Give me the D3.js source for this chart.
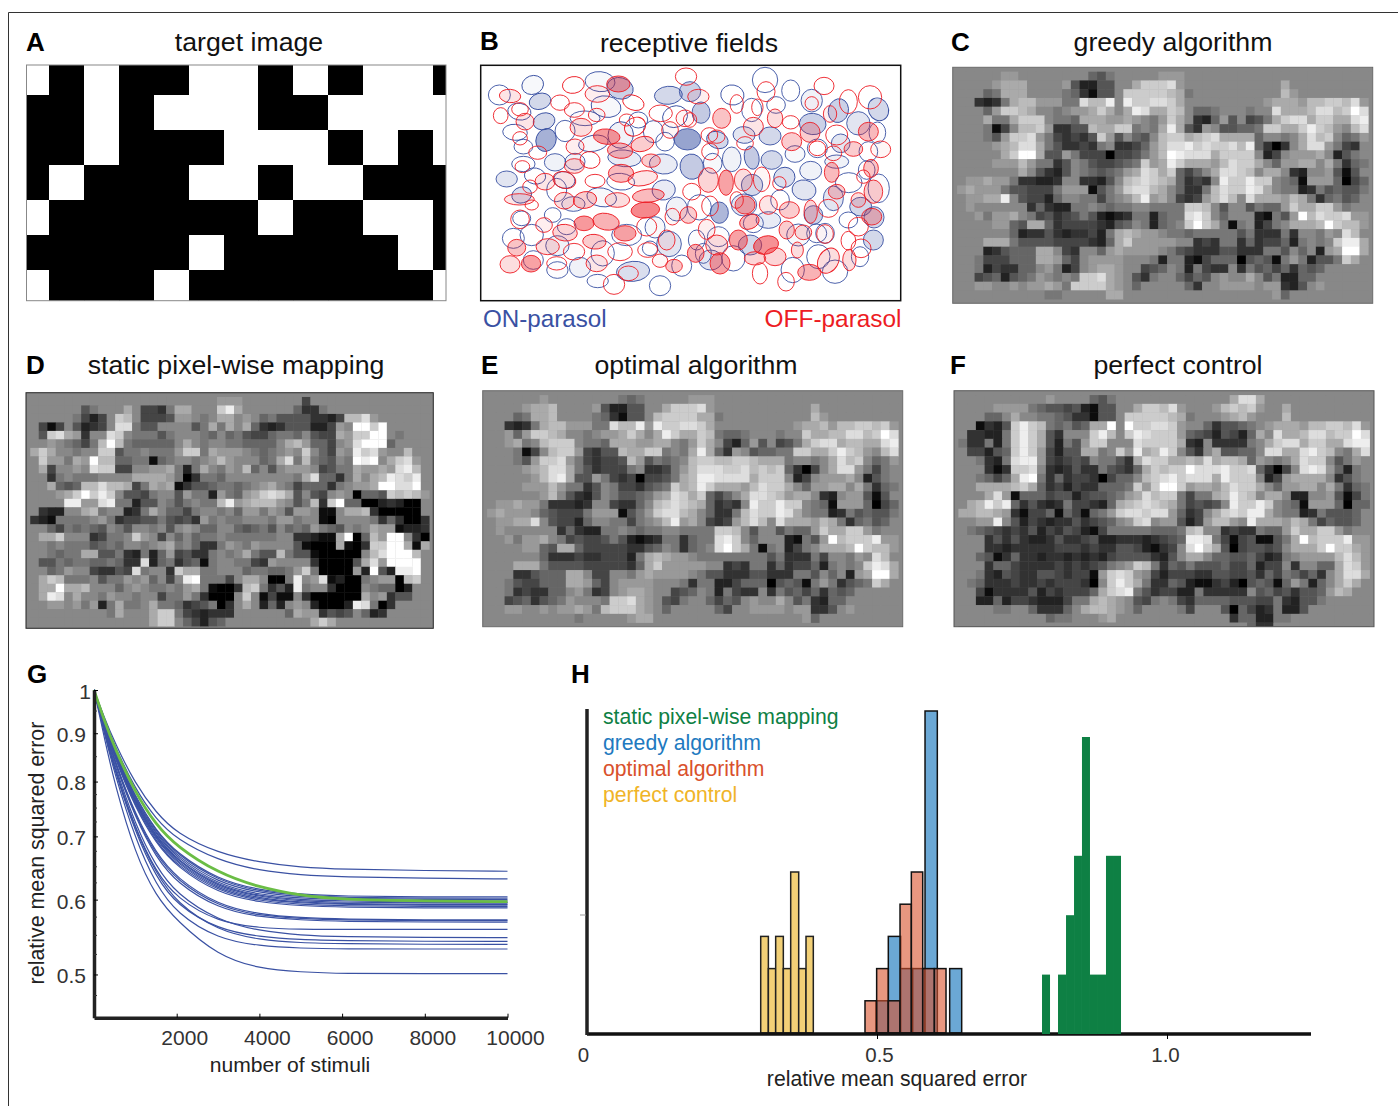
<!DOCTYPE html>
<html>
<head>
<meta charset="utf-8">
<script src="https://cdn.jsdelivr.net/npm/d3@7"></script>
<style>
body { margin: 0; background: #fff; }
text { font-family: "Liberation Sans", Arial, sans-serif; }
</style>
</head>
<body>
<div id="figure"></div>
<script>
// panel A, 1 = white
var targetGrid = [
    "1010011010110",
    "0010111001111",
    "0010001110101",
    "0100011011000",
    "1000000100110",
    "0000010000010",
    "1000100000001"
];

// reconstructions, one hex digit per pixel: 0 black, 8 grey, f white
var greedyRows = [
    "88888 99888 88888 65788 88899 98888 88888 88888 88888 88",
    "88889 aaa88 88952 25588 acccd 98888 88888 88a88 88888 88",
    "88867 aaa88 88763 1558c ccccb a7888 88888 88b98 88888 88",
    "88323 7abb9 9977d bbe8e ccddc a8888 88888 9aaa9 bbccb d9",
    "88869 ccba8 87899 aca8a edaac b8667 88878 8daaa bddbc fd",
    "888a7 7accc 8776a aa99a 9879c a8326 95845 7acdd accaa de",
    "88871 48bbc 93355 baacc 787ae a5398 55667 ccaac ecb98 bd",
    "88875 9ccd9 74343 5c958 658bc cabcd aaaa6 8878a dbc86 79",
    "88889 abdda 75334 37833 469bd decdc cdbe6 3038a dd974 38",
    "88888 acffa 55974 44044 579bf eddda cccc8 24899 9a825 78",
    "88889 99b97 73587 54456 7c9ae caaa9 bdcca 8699a a8a73 67",
    "88888 88a85 32587 65679 adcac 6468a ddcb8 aa832 88951 58",
    "899a9 97332 23883 3258b cdcba 63438 eccec c8761 99960 46",
    "9a999 75544 47999 1579c ddba8 6337b dcced a8772 37565 57",
    "899aa e8544 26887 74789 be9a8 4349b db8da aa9ba 73675 68",
    "89888 88836 32277 87677 88777 7ccb8 58857 669ca acc97 88",
    "88979 9a874 53457 52123 77267 7dec8 68882 1759f bdccd 99",
    "88889 965aa 63444 43256 87267 8cfca 71782 478aa abfcb b9",
    "88888 86233 53233 427ab a9987 76777 77573 33738 8798d b8",
    "888aa a7555 54444 326ac 99999 88343 77363 44627 878ce ea",
    "88823 5666a a8438 869a9 99987 54333 55333 77586 829af fa",
    "88744 4666a a9648 99998 88727 72146 66056 51797 2557c a8",
    "88724 33668 97248 9aa98 84568 72743 38375 64636 56888 88",
    "88456 25679 8787c cda98 53788 64658 988a8 57226 68888 88",
    "88998 89899 a97cc cca98 68888 86388 99998 99325 89888 88",
    "88888 88888 77888 88aa8 88888 88888 88888 89688 88888 88"
];

var optimalRows = [
    "88888 89888 88888 76788 88899 98888 88888 88888 88888 88",
    "88889 aab88 88952 25588 acccd 98888 88888 88a88 88888 88",
    "88867 aab88 88763 1558b cccca a7888 88888 88b98 88888 88",
    "88323 7abb9 9977d bbe9e ccddc a8888 88888 9aab9 bbccb c9",
    "88969 ccba8 87899 aca8a ecaac b7667 88878 8caab bddbc fd",
    "889a7 8bccc 8776a aa99a a879c a8426 95845 7acdd abbaa de",
    "88871 48bcc 94355 baacc 787ae a6398 56677 ccaac ecb98 bd",
    "88875 9ccd9 74344 5b957 678bc cbbcc baaa7 8878a dbc86 79",
    "88889 abdda 75344 47833 479bd ddccd bcbc6 3048a dd974 78",
    "88888 9bdea 55974 34044 57abe edddd accc8 24899 9a825 78",
    "88889 99b97 73587 44356 7cabe caaa9 bdcca 8699a a8a73 67",
    "88888 89b85 32587 55679 adcac 6468a ddcb9 aa832 89951 58",
    "899a9 97333 23884 3368b cdcba 63438 eccec c8761 99960 46",
    "9a999 86544 47999 1579c ddba8 6337b dcced a8772 37565 57",
    "899aa d8544 26887 74789 be9a8 4349b db8da aa9ba 73675 68",
    "89888 88836 32277 87677 88777 7ccb8 58857 669ca acc97 88",
    "88979 9a874 54457 52123 77367 7dec8 68882 1759f bccce 99",
    "88889 965aa 64444 43356 87367 8dfca 71782 478aa abfcb b9",
    "88888 86333 43344 427ab a9987 77777 77573 33748 8798d b8",
    "888aa a7555 54444 436ac 99999 88343 77363 44627 878ce da",
    "88833 5666a a8448 879a9 99987 55333 55333 77586 829af fa",
    "88754 4666a a9648 99998 88737 72246 66056 51797 3567c a8",
    "88734 33668 97348 9aa98 84568 72743 38375 64636 56888 88",
    "88456 35679 8887c cda98 54788 64658 988a8 57326 68888 88",
    "88998 89899 a97bc cca98 68888 86488 99998 99335 89888 88",
    "88888 88888 78888 89aa8 88888 88888 88888 89688 88888 88"
];

var perfectRows = [
    "88888 88888 98888 65788 88888 88888 8adda 88888 88888 88",
    "88889 99976 55452 15588 accbd 98889 bcbc9 88a88 88888 88",
    "88866 8a887 76533 1558c ccccb a7888 9ab98 88b88 88888 88",
    "88132 5cecb 76756 aaf8f ccddc 98863 55678 9aaa9 bbccb d9",
    "83322 7ceca 53888 ceb8c edccc 96542 5426a 8daab ddbcc fd",
    "73372 7ceca 52759 cc888 dcccc a3283 33378 acdda ccaad ee",
    "84425 6cec9 4255a a78c9 eabec 8538a 55668 ddaad ecb87 ad",
    "88732 7dee9 43454 87753 adcca abada bba69 878ad cc857 98",
    "88831 3ccd8 32353 37543 6acbc cfddd eccd6 3048d ed962 78",
    "88764 6aef7 36344 30466 8bcde cddda eccc8 249aa aa835 78",
    "88aaa abca6 34243 36667 c9cff c9aa9 bdcca 8699a a8a73 67",
    "888ad 91666 45524 55679 adbcc 7477a becb8 aa822 88951 47",
    "8abec e6353 23744 326ab cdcba 74545 8ecce c8761 99960 66",
    "aabba 93144 61641 679cd dcdd9 6348a cdcee a8772 37555 68",
    "8899e 85243 23353 45689 cd899 5249b b98ea aa9ba 74655 68",
    "87654 34352 43542 14777 77666 7bc88 34337 669ca acc97 88",
    "88835 35322 35334 52233 32345 6eed7 41451 157af bccce 99",
    "88833 23333 34443 43355 42134 8dfca 50455 458aa acfcc a9",
    "88651 36332 33232 32455 55325 8aa86 65564 23789 999bd b9",
    "88836 64333 34343 45789 cb736 57555 64462 44838 866ad c9",
    "88732 54335 54344 19cdc 98424 44335 54453 64764 638ad da",
    "87633 34334 34443 08cec a7336 52113 42056 51697 268ac a8",
    "88413 33352 43444 6acde 75344 22733 33385 64535 569ba 88",
    "88226 24432 22477 aba98 54787 43666 65554 47325 57888 88",
    "88887 78863 3368a bba98 68888 74888 50642 37225 88888 88",
    "88888 88888 67788 89a88 88888 88888 83662 27788 88888 88",
    "88888 88888 88888 88888 88888 88888 88863 38888 88888 88"
];

var staticRows = [
    "88888 88888 88888 88888 88999 88888 88488 88888 88888 88",
    "88888 85788 8a844 37aa8 88cea 88888 86337 88888 88888 88",
    "88888 74248 cb844 45998 78aa8 98675 55533 24bbd 98888 88",
    "84148 52348 dd755 88885 7a7a8 a6323 55522 498ff cf888 88",
    "85cda 9388d c8777 57888 76867 54467 76854 4a9cc ff878 88",
    "88987 647bf b7666 668a8 78877 66668 ab966 489df ff688 88",
    "aca88 788cc 57787 779cc 7a999 87678 98c86 498ec d988b 88",
    "8c997 a9fbb 66771 67887 89b98 8867a d7b76 587fe f8acd 98",
    "8a488 98dcc 44889 9a727 a8798 b6858 99984 577a9 9a9de b8",
    "88378 77788 88aaa a9703 77688 88888 87ad6 637a8 abedc e8",
    "88a65 6bbdb ba47a 9a135 56776 789a8 74666 37899 affdd f8",
    "8889a cfcec 85547 88597 72976 9acdc a5854 89806 65cbc b9",
    "8888e e99de 77255 87578 77be9 abbb9 857b3 cf660 02320 08",
    "83228 8ab78 8237a 86647 88786 99798 59981 18aab 30000 08",
    "32177 77897 34455 75453 97877 88879 97881 08888 73630 03",
    "88647 67658 75887 85898 66886 56758 67697 65878 a9912 23",
    "8aac8 88347 78c98 48686 77877 77778 83321 1af06 b9ff8 30",
    "88787 77567 68878 9a786 33798 79888 85100 0a103 ccffa 1a",
    "88767 7aa55 73272 69453 37878 a755b 75510 00008 bdfff b8",
    "85576 77667 633d2 67356 17887 74398 88830 0005a d9fff f8",
    "88679 88433 54d78 83caa 77888 67766 79c70 00092 f52ee f8",
    "8acb7 77857 79896 848ef 77748 aa800 7e89d 12007 8990b c8",
    "8aafa ab888 68987 7879a 71003 bc735 2e788 30008 76602 88",
    "8aed8 a8879 88788 47797 30008 c8141 18300 0000a 89355 88",
    "88998 97927 a778a 77634 57038 a8262 89820 002ed 70388 88",
    "88888 88887 a888a cc743 23338 88888 6a993 54586 23888 88",
    "88888 88888 8888a cc864 25688 88888 888ac a8888 88888 88"
];

// panel B ellipses: cx, cy, rx, ry, angle, fill alpha
var onFields = [
    [88,225,33,30,0,0],[188,195,33,28,-20,.05],[210,244,33,24,-15,.3],[222,304,33,25,-15,.3],
    [228,360,30,35,20,.6],[148,275,35,25,10,0],[135,337,37,24,5,0],[160,380,28,22,0,0],
    [160,432,35,23,0,0],[255,427,32,26,0,.1],[285,333,30,32,0,0],[345,295,45,22,0,.02],
    [390,185,45,30,5,.05],[450,205,40,32,15,.35],[408,260,45,32,10,.05],[452,345,38,40,20,.1],
    [370,370,45,24,-10,.05],[463,415,50,25,5,.15],[110,477,32,24,0,.2],[195,468,32,24,10,0],
    [155,525,30,24,-15,.25],[260,510,30,35,0,0],[283,480,32,25,10,.02],[310,552,35,22,0,.1],
    [395,532,45,28,10,.05],[452,485,42,25,5,0],[581,510,35,30,-10,.15],[580,432,42,30,5,.15],
    [550,335,30,33,0,.02],[585,365,28,28,0,0],[595,226,42,27,-5,.3],[660,215,32,30,0,.35],
    [615,290,38,32,-20,0],[652,358,40,32,0,.7],[693,278,27,32,0,.4],[742,360,33,25,20,.3],
    [787,225,35,30,10,0],[785,418,28,37,0,.1],[728,430,28,30,0,.05],[665,440,35,38,-10,.4],
    [845,413,22,35,-10,.4],[822,345,33,25,5,.2],[905,420,32,28,0,.3],[900,348,33,27,0,.3],
    [885,180,38,38,0,0],[845,270,30,35,0,0],[918,255,28,25,0,0],[962,212,27,32,0,0],
    [1025,242,32,34,0,.1],[1105,272,30,36,15,.35],[1225,268,30,35,-25,.3],[1028,312,40,32,5,.35],
    [1165,310,35,35,0,.2],[1222,338,25,32,0,.02],[1112,370,28,28,0,.2],[1042,385,30,28,0,0],
    [975,402,30,25,0,.05],[1100,425,36,20,0,.1],[1022,452,33,28,0,.1],[943,472,32,30,-20,.25],
    [1002,510,36,30,10,.2],[846,495,32,32,0,.3],[1136,488,40,30,0,0],[1090,535,30,37,0,.2],
    [1226,505,32,43,0,.02],[1172,560,33,28,0,.3],[1212,592,30,32,0,.3],[1030,585,28,28,0,.35],
    [1210,660,30,30,0,.3],[985,645,35,33,0,.05],[822,555,38,33,0,.2],[748,578,27,32,0,.55],
    [688,562,36,38,0,0],[620,567,32,36,0,.1],[555,622,30,32,0,.05],[597,672,37,38,0,.2],
    [470,645,45,32,0,.02],[185,645,35,32,0,0],[130,655,33,30,0,0],[262,677,35,30,0,.1],
    [190,720,30,28,0,0],[398,700,35,38,0,.02],[262,750,32,25,0,.02],[330,742,32,30,0,.1],
    [383,783,32,20,0,.02],[489,754,50,30,-5,.25],[540,685,23,22,0,0],[570,797,32,30,0,0],
    [635,737,30,32,0,0],[722,720,35,30,0,.2],[745,650,33,30,0,.02],[680,660,25,30,0,.02],
    [790,715,35,38,0,0],[840,675,35,30,0,.3],[895,600,37,25,0,.15],[968,750,35,38,0,0],
    [1045,710,35,36,0,0],[1095,755,38,35,0,0],[1170,710,26,30,0,0],[1065,640,28,30,0,.02],
    [1195,395,28,30,0,0],[248,585,25,22,0,0],[155,595,27,22,0,0],[315,425,30,25,0,.1],
    [1040,640,30,28,0,0],[850,610,30,28,0,0],[290,620,28,24,0,0],[1190,450,25,28,0,0],
    [1135,600,28,24,0,0],[930,540,28,30,0,0],[505,300,28,24,0,0],[700,700,24,30,0,0]
];

var offFields = [
    [120,228,32,20,5,.15],[310,195,33,25,-10,0],[270,248,28,23,0,0],[313,270,30,22,0,.02],
    [92,287,22,24,0,0],[150,268,25,20,0,0],[165,305,27,25,0,.15],[382,222,37,25,0,.1],
    [445,192,35,24,0,.5],[490,248,33,22,20,0],[333,322,33,27,0,.2],[380,285,25,20,0,.05],
    [495,320,33,27,-30,0],[410,350,40,23,5,.6],[450,392,38,23,5,.4],[517,372,35,22,-15,.3],
    [315,380,27,23,0,.1],[203,398,27,20,0,0],[150,355,22,20,0,0],[157,440,22,18,0,0],
    [313,438,30,22,0,.2],[360,420,30,25,10,0],[453,460,38,27,0,.4],[518,475,45,22,-10,.15],
    [543,422,28,20,0,.3],[225,485,30,25,0,.15],[283,480,35,25,15,.15],[375,483,30,20,0,0],
    [148,538,45,17,0,.15],[185,555,20,15,0,0],[283,542,30,25,0,.2],[345,540,35,25,-10,.3],
    [442,540,37,22,0,.2],[535,527,48,20,-5,.4],[526,570,43,24,-5,.7],[150,598,28,28,0,0],
    [222,615,25,22,0,.1],[285,638,37,25,5,.25],[342,610,30,22,0,.6],[408,605,40,25,10,.45],
    [465,640,33,23,0,.55],[373,665,35,22,5,.3],[140,683,27,25,0,.35],[233,680,35,24,0,.2],
    [312,695,32,25,0,.02],[120,733,30,26,0,.2],[183,731,29,25,0,.55],[260,730,30,20,0,0],
    [380,730,32,25,0,.15],[450,695,37,27,0,0],[432,793,32,30,0,0],[475,760,30,22,0,0],
    [533,690,30,22,0,0],[570,722,23,20,0,.05],[612,738,25,20,0,.35],[590,660,25,30,0,.1],
    [530,620,30,28,0,0],[607,590,22,25,0,.05],[655,585,25,25,0,.3],[710,628,25,30,0,.1],
    [720,558,25,30,0,0],[648,170,32,26,0,0],[685,230,32,22,0,.1],[572,280,35,25,0,0],
    [645,295,27,25,0,.05],[755,295,27,30,0,.35],[800,252,20,28,0,0],[862,262,17,25,0,0],
    [888,215,27,30,0,0],[850,320,30,28,0,.15],[718,345,25,22,0,0],[915,295,23,28,0,.2],
    [962,307,25,20,0,0],[965,365,30,27,0,.3],[1062,198,30,26,0,0],[1135,245,27,36,0,0],
    [1200,232,35,35,0,0],[1025,250,20,20,0,.02],[1080,282,20,25,0,.1],[1020,337,30,30,0,.3],
    [1100,345,33,30,0,0],[1042,385,25,22,0,0],[1150,387,28,22,0,.3],[1195,335,30,28,0,.4],
    [1232,388,30,25,0,.05],[1090,400,25,22,0,.02],[1085,457,22,30,0,.4],[1203,445,22,27,0,.35],
    [1100,515,25,22,0,.3],[1210,515,28,35,0,.3],[1165,540,22,22,0,.2],[1205,590,30,25,0,.35],
    [1165,620,30,28,0,0],[1135,662,22,28,0,0],[1173,685,30,28,0,0],[1138,720,20,32,0,.2],
    [1075,722,30,40,30,.2],[1018,757,35,24,0,.45],[948,785,25,28,0,0],[870,760,23,32,0,0],
    [915,710,33,27,0,.25],[855,715,32,20,0,.25],[888,675,38,27,-15,.65],[805,660,27,30,0,.55],
    [838,605,30,22,-20,.4],[825,555,30,27,0,.5],[768,488,22,38,0,.55],[715,480,30,37,0,.25],
    [820,480,27,33,0,.2],[875,478,25,37,0,.05],[750,730,30,32,0,.55],[740,675,33,30,0,.2],
    [677,700,25,27,0,.45],[665,515,27,25,0,0],[895,555,27,28,0,.15],[958,570,30,25,0,.3],
    [928,490,20,20,0,0],[1022,575,20,35,0,.25],[1000,637,25,22,0,.2],[950,630,23,27,0,.3],
    [982,690,18,24,0,.2],[1065,642,25,28,0,.05],[1075,565,30,27,0,0],[740,350,25,20,0,0],
    [180,500,22,20,0,0],[470,300,22,18,0,0],[600,330,25,25,0,.05],[720,395,25,25,0,0],
    [825,370,25,20,0,0],[1180,470,20,20,0,0],[660,300,20,22,0,0],[800,540,20,25,0,0]
];

// panel G
var stimuli = [0, 250, 500, 1000, 1500, 2000, 3000, 4000, 5000, 6000, 8000, 10000];
var cellCurves = [
    [1,.935,.880,.795,.742,.705,.672,.657,.649,.646,.644,.643],
    [1,.932,.872,.785,.730,.695,.660,.644,.637,.634,.632,.631],
    [1,.925,.862,.770,.710,.672,.630,.614,.608,.605,.604,.604],
    [1,.924,.860,.768,.708,.670,.628,.612,.606,.603,.602,.602],
    [1,.923,.858,.765,.705,.667,.625,.610,.604,.602,.600,.600],
    [1,.922,.857,.763,.703,.664,.622,.607,.602,.600,.598,.598],
    [1,.921,.855,.760,.700,.661,.620,.605,.600,.598,.596,.596],
    [1,.922,.856,.760,.698,.660,.618,.604,.598,.596,.595,.595],
    [1,.920,.853,.757,.696,.657,.616,.602,.596,.594,.593,.593],
    [1,.919,.852,.756,.694,.655,.614,.600,.595,.593,.592,.592],
    [1,.918,.850,.753,.691,.652,.612,.598,.593,.591,.590,.590],
    [1,.917,.848,.750,.688,.650,.609,.596,.591,.589,.588,.588],
    [1,.915,.842,.738,.672,.632,.592,.579,.574,.572,.571,.571],
    [1,.913,.840,.735,.669,.629,.590,.577,.573,.571,.570,.570],
    [1,.912,.838,.732,.665,.625,.587,.575,.571,.569,.568,.568],
    [1,.906,.825,.713,.642,.602,.568,.560,.558,.558,.558,.558],
    [1,.910,.832,.720,.650,.608,.570,.556,.550,.548,.547,.547],
    [1,.904,.822,.706,.634,.592,.558,.548,.544,.543,.542,.542],
    [1,.906,.826,.710,.640,.595,.556,.544,.540,.539,.538,.538],
    [1,.900,.815,.695,.622,.580,.545,.536,.533,.532,.532,.532],
    [1,.890,.795,.670,.605,.570,.523,.507,.503,.501,.501,.501]
];
var populationCurve = [1,.928,.868,.778,.720,.683,.640,.618,.606,.600,.598,.597];
var gXTicks = [2000, 4000, 6000, 8000, 10000];
var gYTicks = [1, .9, .8, .7, .6, .5];
var gYMinor = [.95, .85, .775, .75, .725, .675, .65, .625, .575, .55, .525, .475];

// panel H, histogram edges and counts
var perfectEdges = [.2995,.3127,.3253,.3385,.3512,.3650,.3776,.3902];
var perfectCounts = [3,2,3,2,5,2,3];
var greedyEdges = [.4983,.5195,.5408,.5615,.5828,.6040,.6253,.6460];
var greedyCounts = [1,3,2,2,10,0,2];
var optimalEdges = [.4793,.4994,.5195,.5397,.5592,.5788,.5989,.6190];
var optimalCounts = [1,2,1,4,5,2,2];
var staticEdges = [.7845,.7983,.8121,.8259,.8397,.8534,.8672,.8810,.8948,.9086,.9207];
var staticCounts = [1,0,1,2,3,5,1,1,3,3];
var hXTicks = [0, .5, 1];
var legendNames = ["static pixel-wise mapping", "greedy algorithm", "optimal algorithm", "perfect control"];

var ON_BLUE = "#3a51a3", OFF_RED = "#ed1c24";
var legendColors = ["#0e8044", "#2179c0", "#d9512c", "#f0b428"];

var svg = d3.select("#figure").append("svg")
    .attr("width", 1398).attr("height", 1106)
    .style("display", "block");

var defs = svg.append("defs");
defs.append("filter").attr("id", "soft")
    .attr("x", "-2%").attr("y", "-2%").attr("width", "104%").attr("height", "104%")
    .append("feGaussianBlur").attr("stdDeviation", 0.6);

// outer figure border
svg.append("path").attr("d", "M1398,12.5H8.5V1106")
    .attr("fill", "none").attr("stroke", "#333").attr("stroke-width", 1);

function label(x, y, txt, size, opts) {
    opts = opts || {};
    return svg.append("text")
        .attr("x", x).attr("y", y)
        .attr("font-size", size)
        .attr("font-weight", opts.bold ? "bold" : null)
        .attr("text-anchor", opts.anchor || "start")
        .attr("fill", opts.color || "#111")
        .text(txt);
}

[["A", 26, 51], ["B", 480, 50], ["C", 951, 51], ["D", 26, 374], ["E", 481, 374], ["F", 950, 374], ["G", 27, 683], ["H", 571, 683]]
    .forEach(d => label(d[1], d[2], d[0], 26, { bold: true, color: "#000" }));

[["target image", 249, 51], ["receptive fields", 689, 52], ["greedy algorithm", 1173, 51],
 ["static pixel-wise mapping", 236, 374], ["optimal algorithm", 696, 374], ["perfect control", 1178, 374]]
    .forEach(d => label(d[1], d[2], d[0], 26.7, { anchor: "middle" }));

label(483, 327, "ON-parasol", 24.2, { color: ON_BLUE });
label(901.5, 327, "OFF-parasol", 24.4, { color: OFF_RED, anchor: "end" });

// panel A
(function () {
    var box = { x0: 26.5, x1: 446, y0: 65, y1: 300.7 };
    var col = d3.scaleLinear().domain([1, 12]).range([49.3, 432.7]);
    var row = d3.scaleLinear().domain([1, 6]).range([95.3, 270]);
    defs.append("clipPath").attr("id", "clipA").append("rect")
        .attr("x", box.x0).attr("y", box.y0)
        .attr("width", box.x1 - box.x0).attr("height", box.y1 - box.y0);
    var g = svg.append("g").attr("clip-path", "url(#clipA)").attr("shape-rendering", "crispEdges");
    targetGrid.forEach((line, r) => {
        line.split("").forEach((v, c) => {
            g.append("rect")
                .attr("x", col(c)).attr("y", row(r))
                .attr("width", col(c + 1) - col(c) + 0.5).attr("height", row(r + 1) - row(r) + 0.5)
                .attr("fill", v === "1" ? "#fff" : "#000");
        });
    });
    svg.append("rect").attr("x", box.x0).attr("y", box.y0)
        .attr("width", box.x1 - box.x0).attr("height", box.y1 - box.y0)
        .attr("fill", "none").attr("stroke", "#888").attr("stroke-width", 1);
})();

// panel B
(function () {
    var fx = d3.scaleLinear().domain([32, 1292]).range([480.7, 900.7]);
    var fy = d3.scaleLinear().domain([136, 842]).range([65.3, 300.7]);
    var fr = d3.scaleLinear().domain([0, 1260]).range([0, 420]);
    function draw(fields, color) {
        svg.append("g").selectAll("ellipse")
            .data(fields).enter().append("ellipse")
            .attr("rx", d => fr(d[2])).attr("ry", d => fr(d[3]))
            .attr("transform", d => "translate(" + fx(d[0]) + "," + fy(d[1]) + ") rotate(" + d[4] + ")")
            .attr("fill", color).attr("fill-opacity", d => d[5] * 0.75)
            .attr("stroke", color).attr("stroke-width", 0.9);
    }
    draw(onFields, ON_BLUE);
    draw(offFields, OFF_RED);
    svg.append("rect").attr("x", 480.7).attr("y", 65.3).attr("width", 420).attr("height", 235.4)
        .attr("fill", "none").attr("stroke", "#111").attr("stroke-width", 1.5);
})();

// panels C to F
var grey = d3.scaleLinear().domain([0, 15]).range(["#000", "#fff"]);

function drawImage(id, rows, box, pitch, edge) {
    var cx = d3.scaleLinear().domain([0, 1]).range([box.x0 + pitch / 2, box.x0 + pitch * 1.5]);
    var cy = d3.scaleLinear().domain([0, 1]).range([box.y0 + pitch / 2, box.y0 + pitch * 1.5]);
    var w = box.x1 - box.x0, h = box.y1 - box.y0;
    defs.append("clipPath").attr("id", id).append("rect")
        .attr("x", box.x0).attr("y", box.y0).attr("width", w).attr("height", h);
    var g = svg.append("g").attr("clip-path", "url(#" + id + ")");
    g.append("rect").attr("x", box.x0).attr("y", box.y0).attr("width", w).attr("height", h).attr("fill", "#888");
    var cells = [];
    rows.forEach((line, r) => {
        line.replace(/ /g, "").split("").forEach((v, c) => {
            cells.push({ r: r, c: c, v: parseInt(v, 16) });
        });
    });
    g.append("g").attr("filter", "url(#soft)").selectAll("rect")
        .data(cells).enter().append("rect")
        .attr("x", d => cx(d.c)).attr("y", d => cy(d.r))
        .attr("width", pitch + 0.3).attr("height", pitch + 0.3)
        .attr("fill", d => grey(d.v));
    svg.append("rect").attr("x", box.x0).attr("y", box.y0).attr("width", w).attr("height", h)
        .attr("fill", "none").attr("stroke", edge).attr("stroke-width", 1);
}

drawImage("clipC", greedyRows, { x0: 952.7, x1: 1372.7, y0: 67.3, y1: 303.3 }, 8.75, "#666");
drawImage("clipD", staticRows, { x0: 26, x1: 433.3, y0: 392.7, y1: 628.3 }, 8.49, "#222");
drawImage("clipE", optimalRows, { x0: 482.7, x1: 902.7, y0: 390.7, y1: 626.7 }, 8.75, "#666");
drawImage("clipF", perfectRows, { x0: 954, x1: 1374, y0: 390.7, y1: 626.7 }, 8.75, "#555");

// panel G
var gx = d3.scaleLinear().domain([0, 10000]).range([94, 507.5]);
var gy = d3.scaleLog().domain([.45, 1]).range([1017.7, 690]);
var gLine = d3.line()
    .x((d, i) => gx(stimuli[i]))
    .y(d => gy(d))
    .curve(d3.curveBasis);

svg.append("g").selectAll("path")
    .data(cellCurves).enter().append("path")
    .attr("d", gLine)
    .attr("fill", "none").attr("stroke", ON_BLUE).attr("stroke-width", 1.2);
svg.append("path").attr("d", gLine(populationCurve))
    .attr("fill", "none").attr("stroke", "#6abd45").attr("stroke-width", 2.8);

var gAxisX = svg.append("g")
    .attr("transform", "translate(0,1017.7)")
    .call(d3.axisBottom(gx).tickValues(gXTicks).tickSizeInner(-4).tickSizeOuter(0).tickPadding(12).tickFormat(d3.format("d")));
gAxisX.select(".domain").attr("stroke", "#222").attr("stroke-width", 3.5);
gAxisX.selectAll("text").attr("font-size", 21).attr("fill", "#333").attr("dx", 7.5)
    .style("font-family", '"Liberation Sans", Arial, sans-serif');

var gAxisY = svg.append("g")
    .attr("transform", "translate(94,0)")
    .call(d3.axisLeft(gy).tickValues(gYTicks).tickSizeInner(-4).tickSizeOuter(0).tickPadding(8).tickFormat(d => d === 1 ? "1" : d3.format(".1f")(d)));
gAxisY.select(".domain").attr("stroke", "#222").attr("stroke-width", 3.5);
gAxisY.selectAll("text").attr("font-size", 21).attr("fill", "#333").attr("dy", "0.4em")
    .style("font-family", '"Liberation Sans", Arial, sans-serif');
gAxisY.selectAll("text").filter(d => d === 1).attr("dx", 5);
svg.append("g").selectAll("line")
    .data(gYMinor).enter().append("line")
    .attr("x1", 94).attr("x2", 97)
    .attr("y1", d => gy(d)).attr("y2", d => gy(d))
    .attr("stroke", "#333").attr("stroke-width", 1);

label(0, 0, "relative mean squared error", 21.4, { anchor: "middle", color: "#222" })
    .attr("transform", "translate(44,853) rotate(-90)");
label(290, 1072, "number of stimuli", 21.1, { anchor: "middle", color: "#222" });

// panel H
var hx = d3.scaleLinear().domain([0, 1]).range([587, 1167]);
var hy = d3.scaleLinear().domain([0, 10]).range([1033, 711]);
var hyStatic = d3.scaleLinear().domain([0, 5]).range([1034, 737]);

function histogram(edges, counts, y, fill, opacity, stroke) {
    var rows = counts.map((n, i) => ({ n: n, a: edges[i], b: edges[i + 1] })).filter(d => d.n > 0);
    svg.append("g").selectAll("rect")
        .data(rows).enter().append("rect")
        .attr("x", d => hx(d.a)).attr("width", d => hx(d.b) - hx(d.a))
        .attr("y", d => y(d.n)).attr("height", d => y(0) - y(d.n))
        .attr("fill", fill).attr("fill-opacity", opacity)
        .attr("stroke", stroke).attr("stroke-width", stroke === "none" ? 0 : 1.5);
}

histogram(perfectEdges, perfectCounts, hy, "#f2d077", 1, "#222");
histogram(greedyEdges, greedyCounts, hy, "#6ba8d5", 1, "#111");
histogram(optimalEdges, optimalCounts, hy, "#d9512c", 0.6, "#111");

var hAxisX = svg.append("g")
    .attr("transform", "translate(0,1034)")
    .call(d3.axisBottom(hx).tickValues(hXTicks).tickSizeInner(5).tickSizeOuter(0).tickPadding(8)
        .tickFormat(d => d === 0 ? "0" : d3.format(".1f")(d)));
hAxisX.select(".domain").attr("d", "M587,0H1311").attr("stroke", "#111").attr("stroke-width", 3.5);
hAxisX.selectAll("text").attr("font-size", 20.5).attr("fill", "#333")
    .style("font-family", '"Liberation Sans", Arial, sans-serif');
hAxisX.selectAll("text").filter(d => d === 0).attr("dx", -4);
hAxisX.selectAll("text").filter(d => d === 1).attr("dx", -2);
hAxisX.selectAll("text").filter(d => d === .5).attr("dx", 2);
hAxisX.selectAll("line").filter(d => d === 0).remove();

histogram(staticEdges, staticCounts, hyStatic, "#0e8044", 1, "none");

svg.append("line").attr("x1", 587).attr("x2", 587).attr("y1", 709).attr("y2", 1035)
    .attr("stroke", "#222").attr("stroke-width", 3.5);
svg.append("line").attr("x1", 580).attr("x2", 586).attr("y1", 915).attr("y2", 915)
    .attr("stroke", "#999").attr("stroke-width", 1);

legendNames.forEach((name, i) => {
    label(603, [724, 750, 776, 802][i], name, 21.2, { color: legendColors[i] });
});
label(897, 1086, "relative mean squared error", 21.2, { anchor: "middle", color: "#222" });
</script>
</body>
</html>
